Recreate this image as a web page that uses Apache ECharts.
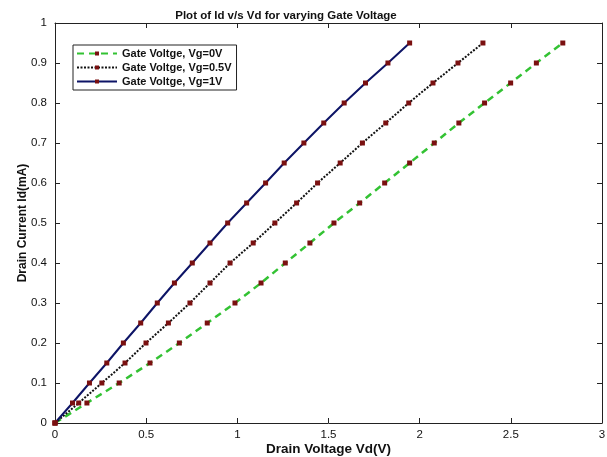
<!DOCTYPE html>
<html>
<head>
<meta charset="utf-8">
<script src="https://cdn.jsdelivr.net/npm/echarts@6/dist/echarts.min.js"></script>
<style>
  html, body { margin: 0; padding: 0; background: #fff; }
  #chart { width: 607px; height: 457px; }
</style>
</head>
<body>
<div id="chart"></div>
<script>
// drain current values (mA), same for every curve
const idValues = [0, 0.05, 0.1, 0.15, 0.2, 0.25, 0.3, 0.35, 0.4, 0.45, 0.5, 0.55, 0.6, 0.65, 0.7, 0.75, 0.8, 0.85, 0.9, 0.95];
// drain voltage (V) for each gate voltage
const vdVg0 = [0, 0.175, 0.352, 0.521, 0.682, 0.835, 0.987, 1.13, 1.263, 1.398, 1.53, 1.671, 1.808, 1.945, 2.08, 2.215, 2.356, 2.499, 2.64, 2.785];
const vdVg05 = [0, 0.13, 0.257, 0.384, 0.499, 0.622, 0.74, 0.85, 0.96, 1.087, 1.206, 1.325, 1.44, 1.564, 1.686, 1.814, 1.94, 2.073, 2.21, 2.347];
const vdVg1 = [0, 0.096, 0.189, 0.284, 0.375, 0.47, 0.561, 0.655, 0.753, 0.85, 0.947, 1.051, 1.155, 1.257, 1.365, 1.474, 1.586, 1.703, 1.826, 1.945];
const seriesNames = ['Gate Voltge, Vg=0V', 'Gate Voltge, Vg=0.5V', 'Gate Voltge, Vg=1V'];
const xTicks = [0, 0.5, 1, 1.5, 2, 2.5, 3];
const yTicks = [0, 0.1, 0.2, 0.3, 0.4, 0.5, 0.6, 0.7, 0.8, 0.9, 1];

const font = 'Liberation Sans, Arial, sans-serif';

function pairs(xs) {
  return xs.map((x, i) => [x, idValues[i]]);
}

let chart = echarts.init(document.getElementById('chart'));

//坐标轴公共样式
function axisLine() {
  return { show: true, onZero: false, lineStyle: { color: '#222', width: 1 } };
}
function axisTick() {
  return { show: true, inside: true, length: 5, lineStyle: { color: '#222' } };
}

let option = {
  animation: false,
  backgroundColor: '#fff',
  title: {
    text: 'Plot of Id v/s Vd for varying Gate Voltage',
    left: 281,
    textAlign: 'center',
    top: 5,
    textStyle: { fontFamily: font, fontSize: 11.5, fontWeight: 'bold', color: '#111' }
  },
  legend: {
    orient: 'vertical',
    left: 73,
    top: 45,
    data: seriesNames,
    backgroundColor: '#fff',
    borderColor: '#222',
    borderWidth: 1,
    borderRadius: 0,
    padding: [3, 5, 3, 3],
    itemGap: 3,
    itemWidth: 40,
    itemHeight: 5,
    textStyle: { fontFamily: font, fontSize: 11, fontWeight: 'bold', color: '#111' }
  },
  grid: { left: 55, right: 5, top: 23, bottom: 34, containLabel: false, outerBoundsMode: 'none' },
  xAxis: [
    {
      type: 'value', min: 0, max: 3, interval: 0.5,
      name: 'Drain Voltage Vd(V)', nameLocation: 'middle', nameGap: 19, nameMoveOverlap: false,
      nameTextStyle: { fontFamily: font, fontSize: 13.5, fontWeight: 'bold', color: '#111' },
      axisLine: axisLine(), axisTick: axisTick(), splitLine: { show: false },
      axisLabel: { fontFamily: font, fontSize: 11.5, color: '#111', margin: 6,
        formatter: v => xTicks.includes(v) ? String(v) : '' }
    },
    {
      type: 'value', min: 0, max: 3, interval: 0.5, position: 'top',
      axisLine: axisLine(), axisTick: axisTick(), axisLabel: { show: false }, splitLine: { show: false }
    }
  ],
  yAxis: [
    {
      type: 'value', min: 0, max: 1, interval: 0.1,
      name: 'Drain Current Id(mA)', nameLocation: 'middle', nameGap: 26, nameMoveOverlap: false,
      nameTextStyle: { fontFamily: font, fontSize: 12, fontWeight: 'bold', color: '#111' },
      axisLine: axisLine(), axisTick: axisTick(), splitLine: { show: false },
      axisLabel: { fontFamily: font, fontSize: 11.5, color: '#111', margin: 8,
        formatter: v => yTicks.includes(Math.round(v * 10) / 10) ? String(Math.round(v * 10) / 10) : '' }
    },
    {
      type: 'value', min: 0, max: 1, interval: 0.1, position: 'right',
      axisLine: axisLine(), axisTick: axisTick(), axisLabel: { show: false }, splitLine: { show: false }
    }
  ],
  series: [
    {
      name: seriesNames[0], type: 'line', data: pairs(vdVg0),
      symbol: 'rect', symbolSize: 5, showAllSymbol: true,
      lineStyle: { color: '#33c233', width: 2.5, type: [7, 5] },
      itemStyle: { color: '#7a1010' }
    },
    {
      name: seriesNames[1], type: 'line', data: pairs(vdVg05),
      symbol: 'rect', symbolSize: 5, showAllSymbol: true,
      lineStyle: { color: '#111', width: 2, type: [2, 1.5] },
      itemStyle: { color: '#7a1010' }
    },
    {
      name: seriesNames[2], type: 'line', data: pairs(vdVg1),
      symbol: 'rect', symbolSize: 5, showAllSymbol: true,
      lineStyle: { color: '#0d1466', width: 2 },
      itemStyle: { color: '#7a1010' }
    }
  ]
};

chart.setOption(option);
</script>
</body>
</html>
